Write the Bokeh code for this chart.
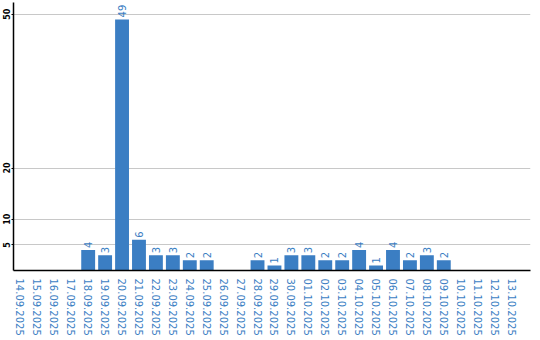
import math
from bokeh.plotting import figure
from bokeh.models import ColumnDataSource, Range1d, FixedTicker
from bokeh.core.properties import value
from bokeh.embed import file_html
from bokeh.resources import INLINE

dates = ["14.09.2025", "15.09.2025", "16.09.2025", "17.09.2025", "18.09.2025",
         "19.09.2025", "20.09.2025", "21.09.2025", "22.09.2025", "23.09.2025",
         "24.09.2025", "25.09.2025", "26.09.2025", "27.09.2025", "28.09.2025",
         "29.09.2025", "30.09.2025", "01.10.2025", "02.10.2025", "03.10.2025",
         "04.10.2025", "05.10.2025", "06.10.2025", "07.10.2025", "08.10.2025",
         "09.10.2025", "10.10.2025", "11.10.2025", "12.10.2025", "13.10.2025"]
counts = [0, 0, 0, 0, 4, 3, 49, 6, 3, 3, 2, 2, 0, 0, 2, 1, 3, 3, 2, 2,
          4, 1, 4, 2, 3, 2, 0, 0, 0, 0]
y_ticks = [5, 10, 20, 50]

BLUE = "#3b7ec3"

idx = list(range(len(dates)))
src = ColumnDataSource(dict(x=idx, top=counts))
nz = [i for i, c in enumerate(counts) if c > 0]
lab = ColumnDataSource(dict(x=nz, y=[counts[i] for i in nz],
                            t=[str(counts[i]) for i in nz]))

p = figure(width=540, height=340, output_backend="svg", toolbar_location=None,
           x_range=Range1d(-0.41, 30.12), y_range=Range1d(0, 52.3),
           min_border_left=11, min_border_right=10, min_border_top=2,
           min_border_bottom=70)
p.outline_line_color = None
p.background_fill_color = "white"

p.vbar(x="x", top="top", width=0.82, bottom=0, source=src,
       fill_color=BLUE, line_color=None)
p.text(x="x", y="y", text="t", source=lab, angle=math.pi / 2,
       text_align="left", text_baseline="middle", y_offset=-2,
       text_color=BLUE, text_font=value("DejaVu Sans"), text_font_size="10px")

p.xaxis.ticker = FixedTicker(ticks=idx)
p.xaxis.major_label_overrides = {i: d for i, d in enumerate(dates)}
p.xaxis.major_label_orientation = "vertical"
p.xaxis.major_label_text_color = BLUE
p.xaxis.major_label_text_font = "DejaVu Sans"
p.xaxis.major_label_text_font_size = "10px"
p.xaxis.major_tick_line_color = None
p.xaxis.minor_tick_line_color = None
p.xaxis.major_label_standoff = 2
p.xaxis.axis_line_color = "black"
p.xaxis.axis_line_width = 1.5

p.yaxis.ticker = FixedTicker(ticks=y_ticks)
p.yaxis.major_label_orientation = "vertical"
p.yaxis.major_label_text_color = "black"
p.yaxis.major_label_text_font = "DejaVu Sans"
p.yaxis.major_label_text_font_style = "bold"
p.yaxis.major_label_text_font_size = "8px"
p.yaxis.major_tick_out = 2
p.yaxis.major_tick_in = 0
p.yaxis.minor_tick_line_color = None
p.yaxis.major_label_standoff = 1
p.yaxis.axis_line_color = "black"
p.yaxis.axis_line_width = 1.5

p.xgrid.grid_line_color = None
p.ygrid.grid_line_color = "#c8c8c8"

open("out.html", "w").write(file_html(p, INLINE))
